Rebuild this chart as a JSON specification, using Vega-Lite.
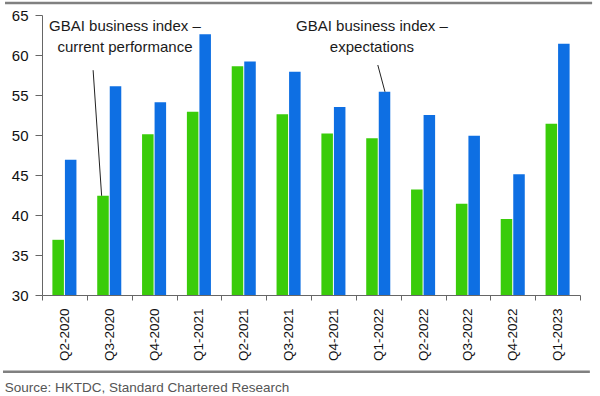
{
  "$schema": "https://vega.github.io/schema/vega-lite/v6.json",
  "width": 538,
  "height": 280,
  "autosize": {"type": "none"},
  "padding": {"left": 42, "top": 15, "right": 20, "bottom": 101},
  "background": "white",
  "config": {"view": {"stroke": null}, "font": "Liberation Sans"},
  "datasets": {
    "bars": [
      {"quarter": "Q2-2020", "series": "current", "value": 36.9},
      {"quarter": "Q2-2020", "series": "expectations", "value": 46.9},
      {"quarter": "Q3-2020", "series": "current", "value": 42.4},
      {"quarter": "Q3-2020", "series": "expectations", "value": 56.1},
      {"quarter": "Q4-2020", "series": "current", "value": 50.1},
      {"quarter": "Q4-2020", "series": "expectations", "value": 54.1},
      {"quarter": "Q1-2021", "series": "current", "value": 52.9},
      {"quarter": "Q1-2021", "series": "expectations", "value": 62.6},
      {"quarter": "Q2-2021", "series": "current", "value": 58.6},
      {"quarter": "Q2-2021", "series": "expectations", "value": 59.2},
      {"quarter": "Q3-2021", "series": "current", "value": 52.6},
      {"quarter": "Q3-2021", "series": "expectations", "value": 57.9},
      {"quarter": "Q4-2021", "series": "current", "value": 50.2},
      {"quarter": "Q4-2021", "series": "expectations", "value": 53.5},
      {"quarter": "Q1-2022", "series": "current", "value": 49.6},
      {"quarter": "Q1-2022", "series": "expectations", "value": 55.4},
      {"quarter": "Q2-2022", "series": "current", "value": 43.2},
      {"quarter": "Q2-2022", "series": "expectations", "value": 52.5},
      {"quarter": "Q3-2022", "series": "current", "value": 41.4},
      {"quarter": "Q3-2022", "series": "expectations", "value": 49.9},
      {"quarter": "Q4-2022", "series": "current", "value": 39.5},
      {"quarter": "Q4-2022", "series": "expectations", "value": 45.1},
      {"quarter": "Q1-2023", "series": "current", "value": 51.4},
      {"quarter": "Q1-2023", "series": "expectations", "value": 61.4}
    ],
    "notes": [
      {"label": "GBAI business index –", "x": 1.85, "y": 63.6},
      {"label": "current performance", "x": 1.85, "y": 61.0},
      {"label": "GBAI business index –", "x": 7.36, "y": 63.6},
      {"label": "expectations", "x": 7.36, "y": 61.0}
    ],
    "leaders": [
      {"x": 1.14, "y": 58.1, "x2": 1.33, "y2": 42.4},
      {"x": 7.49, "y": 58.75, "x2": 7.65, "y2": 55.4}
    ],
    "frame": [
      {"part": "top", "x": -0.825, "x2": 12.27, "y": 66.5},
      {"part": "bottom", "x": -0.87, "x2": 12.22, "y": 20.4}
    ],
    "source": [
      {"label": "Source: HKTDC, Standard Chartered Research", "x": -0.83, "y": 18.4}
    ]
  },
  "resolve": {"scale": {"x": "independent"}, "axis": {"y": "independent"}},
  "layer": [
    {
      "data": {"name": "bars"},
      "mark": {"type": "bar"},
      "encoding": {
        "x": {
          "field": "quarter", "type": "nominal", "sort": null,
          "scale": {"paddingInner": 0, "paddingOuter": 0},
          "axis": {
            "title": null, "labelAngle": -90, "labelAlign": "right", "labelBaseline": "middle",
            "tickBand": "extent", "labelFontSize": 13.5, "labelColor": "#111",
            "domainColor": "#666", "tickColor": "#666", "tickSize": 5, "labelPadding": 8
          }
        },
        "xOffset": {
          "field": "series", "type": "nominal", "sort": ["current", "expectations"],
          "scale": {"paddingInner": 0.08, "paddingOuter": 0.83}
        },
        "y": {
          "field": "value", "type": "quantitative",
          "scale": {"domain": [30, 65], "nice": false, "zero": false},
          "axis": {
            "title": null, "values": [30, 35, 40, 45, 50, 55, 60, 65], "grid": false,
            "labelFontSize": 15, "labelColor": "#111", "domainColor": "#666",
            "tickColor": "#666", "tickSize": 7, "labelPadding": 7, "labelOverlap": false
          }
        },
        "y2": {"datum": 30},
        "color": {
          "field": "series", "type": "nominal",
          "scale": {"domain": ["current", "expectations"], "range": ["#3ACC0A", "#0E6FE3"]},
          "legend": null
        }
      }
    },
    {
      "data": {"name": "leaders"},
      "mark": {"type": "rule", "color": "#222", "strokeWidth": 1},
      "encoding": {
        "x": {"field": "x", "type": "quantitative", "scale": {"domain": [0, 12], "nice": false, "zero": false}, "axis": null},
        "x2": {"field": "x2"},
        "y": {"field": "y", "type": "quantitative", "scale": {"domain": [30, 65], "nice": false, "zero": false}, "axis": null},
        "y2": {"field": "y2"}
      }
    },
    {
      "data": {"name": "notes"},
      "mark": {"type": "text", "fontSize": 15, "color": "#1a1a1a", "align": "center", "baseline": "middle"},
      "encoding": {
        "x": {"field": "x", "type": "quantitative", "scale": {"domain": [0, 12], "nice": false, "zero": false}, "axis": null},
        "y": {"field": "y", "type": "quantitative", "scale": {"domain": [30, 65], "nice": false, "zero": false}, "axis": null},
        "text": {"field": "label"}
      }
    },
    {
      "data": {"name": "frame"},
      "mark": {"type": "rule", "color": "#808080", "strokeWidth": 2.5},
      "encoding": {
        "x": {"field": "x", "type": "quantitative", "scale": {"domain": [0, 12], "nice": false, "zero": false}, "axis": null},
        "x2": {"field": "x2"},
        "y": {"field": "y", "type": "quantitative", "scale": {"domain": [30, 65], "nice": false, "zero": false}, "axis": null}
      }
    },
    {
      "data": {"name": "source"},
      "mark": {"type": "text", "fontSize": 13.5, "color": "#555", "align": "left", "baseline": "middle"},
      "encoding": {
        "x": {"field": "x", "type": "quantitative", "scale": {"domain": [0, 12], "nice": false, "zero": false}, "axis": null},
        "y": {"field": "y", "type": "quantitative", "scale": {"domain": [30, 65], "nice": false, "zero": false}, "axis": null},
        "text": {"field": "label"}
      }
    }
  ]
}
